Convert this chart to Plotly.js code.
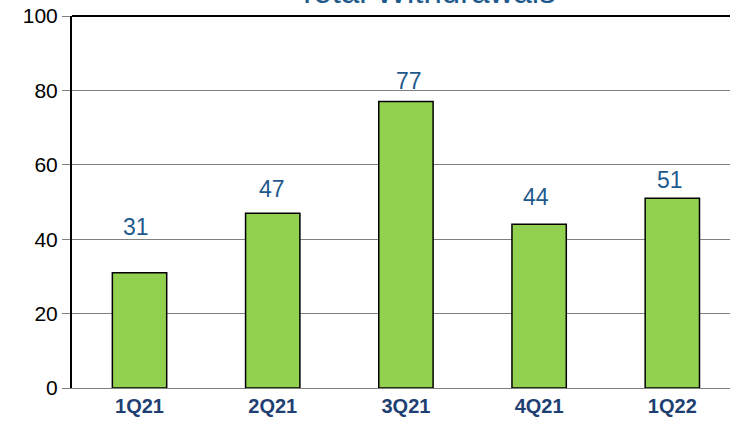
<!DOCTYPE html>
<html>
<head>
<meta charset="utf-8">
<script src="https://cdn.plot.ly/plotly-3.0.1.min.js"></script>
<style>html,body{margin:0;padding:0;background:#fff;}#chart{width:730px;height:423px;}</style>
</head>
<body>
<div id="chart"></div>
<script>
const categories = ["1Q21", "2Q21", "3Q21", "4Q21", "1Q22"];
const withdrawals = [31, 47, 77, 44, 51];
const chartTitle = "Total Withdrawals";
const yTicks = [0, 20, 40, 60, 80, 100];

const FONT = "Liberation Sans, Arial, sans-serif";
const labelShiftY = [31, 9, 6, 12, 3];
const labelShiftX = [-4, -1, 3, -3, -2];

const trace = {
  type: "bar",
  x: categories.map((c, i) => i),
  y: withdrawals,
  width: 0.408,
  marker: { color: "#92D050", line: { color: "#000000", width: 1.5 } },
  hoverinfo: "skip"
};

const annotations = withdrawals.map((v, i) => ({
  x: i, y: v, xref: "x", yref: "y",
  text: String(v), showarrow: false,
  yanchor: "bottom", yshift: labelShiftY[i], xshift: labelShiftX[i],
  font: { family: FONT, size: 23, color: "#1F5A8C" }
}));
annotations.push({
  x: (426.5 - 72) / 658, y: 1, xref: "paper", yref: "paper",
  text: chartTitle, showarrow: false, yanchor: "bottom", yshift: 4,
  font: { family: FONT, size: 33, color: "#1F5A8C" }
});

const layout = {
  width: 730, height: 423,
  margin: { l: 72, r: 0, t: 16, b: 35, pad: 0 },
  paper_bgcolor: "#ffffff", plot_bgcolor: "#ffffff",
  showlegend: false,
  bargap: 0,
  xaxis: {
    range: [-0.507, 4.433],
    tickmode: "array",
    tickvals: categories.map((c, i) => i),
    ticktext: categories,
    showgrid: false, zeroline: false,
    showline: true, linecolor: "#808080", linewidth: 1,
    ticks: "",
    tickfont: { family: FONT, size: 20, color: "#1F3F73", weight: "bold" },
    fixedrange: true
  },
  yaxis: {
    range: [0, 100],
    tickmode: "array", tickvals: yTicks, ticktext: yTicks.map(String),
    showgrid: true, gridcolor: "#808080", gridwidth: 1,
    zeroline: false,
    showline: true, linecolor: "#000000", linewidth: 2,
    ticks: "outside", ticklen: 8, tickcolor: "#808080", tickwidth: 1,
    tickfont: { family: FONT, size: 21, color: "#000000" },
    fixedrange: true
  },
  shapes: [{
    type: "line", xref: "paper", yref: "paper",
    x0: 0, x1: 1, y0: 1, y1: 1,
    line: { color: "#000000", width: 2 }
  }],
  annotations: annotations
};

Plotly.newPlot("chart", [trace], layout, { displayModeBar: false, staticPlot: true });
</script>
</body>
</html>
